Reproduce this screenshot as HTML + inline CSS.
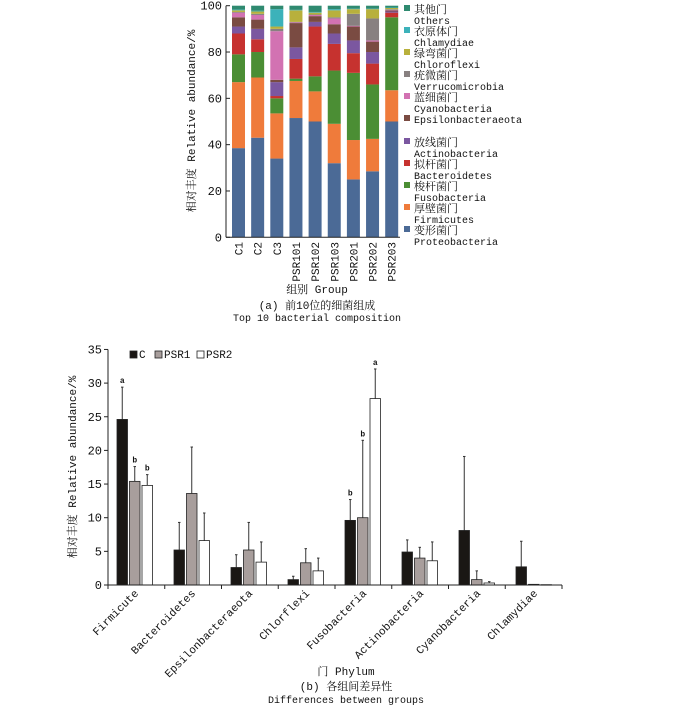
<!DOCTYPE html>
<html><head><meta charset="utf-8"><style>
body{margin:0;background:#fff;width:700px;height:708px;overflow:hidden}
svg text{font-family:"Liberation Mono","Noto Serif CJK SC",monospace;fill:#111}
</style></head><body>
<svg id="s" width="700" height="708">
<g id="top"></g>
<g id="bot"></g>
</svg>
<script>
// ---- chart (a) data: cumulative tops per bar, phyla bottom->top ----
const samples = ["C1","C2","C3","PSR101","PSR102","PSR103","PSR201","PSR202","PSR203"];
const phyla = ["Proteobacteria","Firmicutes","Fusobacteria","Bacteroidetes","Actinobacteria","Epsilonbacteraeota","Cyanobacteria","Verrucomicrobia","Chloroflexi","Chlamydiae","Others"];
const cumC1 = [38.5,67,79,88,91,95,97,97.3,98,98.3,100];
const cumC2 = [43,69,80,85.5,90,94,96,96.5,97.5,97.8,100];
const cumC3 = [34,53.5,60,61,67,68,89,90,91,98.5,100];
const cumP101 = [51.5,67.5,68.5,77,82,92.5,92.8,93,98,98.2,100];
const cumP102 = [50,63,69.5,91,93,95.5,96,96.2,97,97.3,100];
const cumP103 = [32,49,72,83.5,88,92,94.5,95,98,98.5,100];
const cumP201 = [25,42,71,79.5,85,91,91.3,96.5,98.5,98.7,100];
const cumP202 = [28.5,42.5,66,75,80,84.5,85,94.5,98.5,98.7,100];
const cumP203 = [50,63.5,95,97,97.5,98,98.2,98.5,99,99.2,100];
const stacks = [cumC1,cumC2,cumC3,cumP101,cumP102,cumP103,cumP201,cumP202,cumP203];
const topTicks = [0,20,40,60,80,100];
const legendCN = ["其他门","衣原体门","绿弯菌门","疣微菌门","蓝细菌门","","放线菌门","拟杆菌门","梭杆菌门","厚壁菌门","变形菌门"];
const legendEN = ["Others","Chlamydiae","Chloroflexi","Verrucomicrobia","Cyanobacteria","Epsilonbacteraeota","Actinobacteria","Bacteroidetes","Fusobacteria","Firmicutes","Proteobacteria"];
// ---- chart (b) data ----
const groups = ["Firmicute","Bacteroidetes","Epsilonbacteraeota","Chlorflexi","Fusobacteria","Actinobacteria","Cyanobacteria","Chlamydiae"];
const series = ["C","PSR1","PSR2"];
const valC = [24.6,5.2,2.6,0.8,9.6,4.9,8.1,2.7];
const valP1 = [15.4,13.6,5.2,3.3,10,4.0,0.8,0.1];
const valP2 = [14.8,6.6,3.4,2.1,27.7,3.6,0.3,0.05];
const errC = [29.4,9.3,4.5,1.3,12.7,6.7,19.1,6.5];
const errP1 = [17.6,20.5,9.3,5.4,21.5,5.6,2.1,0.1];
const errP2 = [16.4,10.7,6.4,4.0,32.1,6.4,0.5,0.05];
const letC = ["a","","","","b","","",""];
const letP1 = ["b","","","","b","","",""];
const letP2 = ["b","","","","a","","",""];
const botTicks = [0,5,10,15,20,25,30,35];

const NS="http://www.w3.org/2000/svg";
function mk(p,tag,at,txt){const e=document.createElementNS(NS,tag);for(const k in at)e.setAttribute(k,at[k]);if(txt!==undefined)e.textContent=txt;p.appendChild(e);return e;}
const colors={Proteobacteria:"#4b6a96",Firmicutes:"#ef7b3b",Fusobacteria:"#4b8e34",Bacteroidetes:"#c6322f",Actinobacteria:"#7b57a0",Epsilonbacteraeota:"#7a4b42",Cyanobacteria:"#d272b2",Verrucomicrobia:"#888080",Chloroflexi:"#b8b03c",Chlamydiae:"#3cb2ba",Others:"#2f8a70"};

// ---- draw (a) ----
const T=document.getElementById('top');
const ty=v=>237.3-v*2.316, tx=i=>238.5+i*19.15;
stacks.forEach((cum,i)=>{
  let prev=0;
  cum.forEach((c,j)=>{
    const r=mk(T,'rect',{x:tx(i)-6.5,y:ty(c),width:13,height:ty(prev)-ty(c),fill:colors[phyla[j]]});
    
    
    prev=c;
  });
  const t=mk(T,'text',{x:0,y:0,transform:`translate(${tx(i)+4},242) rotate(-90)`,'font-size':11,'text-anchor':'end'},samples[i]);
  
  
});
mk(T,'line',{x1:226,y1:ty(100),x2:226,y2:ty(0),stroke:'#222'});
mk(T,'line',{x1:226,y1:ty(0),x2:400,y2:ty(0),stroke:'#222'});
topTicks.forEach(v=>{
  mk(T,'line',{x1:226,y1:ty(v),x2:230,y2:ty(v),stroke:'#222'});
  const t=mk(T,'text',{x:222,y:ty(v)+4,'font-size':12,'text-anchor':'end'},v);
  
  
});
mk(T,'text',{transform:'translate(195,121) rotate(-90)','font-size':11,'text-anchor':'middle',},'相对丰度 Relative abundance/%');
const legY=[9,31,53,75,97,119,142,164,186,208,230];
legendEN.forEach((en,k)=>{
  const g=mk(T,'g',{});
  
  
  mk(g,'rect',{x:404,y:legY[k]-4,width:6,height:6,fill:colors[en]});
  if(legendCN[k]){mk(g,'text',{x:414,y:legY[k]+4,'font-size':11},legendCN[k]);mk(g,'text',{x:414,y:legY[k]+15,'font-size':10},en);}
  else mk(g,'text',{x:414,y:legY[k]+4,'font-size':10},en);
});
mk(T,'text',{x:317,y:293,'font-size':11,'text-anchor':'middle',},'组别 Group');
mk(T,'text',{x:317,y:309,'font-size':11,'text-anchor':'middle',},'(a) 前10位的细菌组成');
mk(T,'text',{x:317,y:321,'font-size':10,'text-anchor':'middle',},'Top 10 bacterial composition');

// ---- draw (b) ----
const B=document.getElementById('bot');
const by=v=>585-v*6.73, gx=i=>117+i*57;
const vals=[valC,valP1,valP2], errs=[errC,errP1,errP2], lets=[letC,letP1,letP2];
const fills=["#1a1714","#a89e9c","#ffffff"];
groups.forEach((g,i)=>{
  for(let s=0;s<3;s++){
    const x=gx(i)+s*12.5, v=vals[s][i], e=errs[s][i];
    if(e>v){mk(B,'line',{x1:x+5.25,y1:by(e),x2:x+5.25,y2:by(v),stroke:'#333','stroke-width':1});
      mk(B,'line',{x1:x+4,y1:by(e),x2:x+6.5,y2:by(e),stroke:'#333'});}
    const r=mk(B,'rect',{x:x,y:by(v),width:10.5,height:Math.max(0.5,by(0)-by(v)),fill:fills[s],stroke:'#222','stroke-width':0.8});
    
    
    if(lets[s][i]) mk(B,'text',{x:x+5.25,y:by(e)-4,'font-size':8,'font-weight':'bold','text-anchor':'middle'},lets[s][i]);
  }
  const t=mk(B,'text',{transform:`translate(${gx(i)+22},594) rotate(-45)`,'font-size':11,'text-anchor':'end'},g);
  
  
});
mk(B,'line',{x1:108,y1:by(35),x2:108,y2:by(0),stroke:'#222'});
mk(B,'line',{x1:108,y1:by(0),x2:562,y2:by(0),stroke:'#222'});
for(let i=0;i<=8;i++) mk(B,'line',{x1:108+i*56.75,y1:585,x2:108+i*56.75,y2:589,stroke:'#222'});
botTicks.forEach(v=>{
  mk(B,'line',{x1:104,y1:by(v),x2:108,y2:by(v),stroke:'#222'});
  const t=mk(B,'text',{x:102,y:by(v)+4,'font-size':12,'text-anchor':'end'},v);
  
  
});
mk(B,'text',{transform:'translate(76,467) rotate(-90)','font-size':11,'text-anchor':'middle',},'相对丰度 Relative abundance/%');
series.forEach((s,k)=>{
  const g=mk(B,'g',{});
  
  
  const lx=[130,155,197][k];
  mk(g,'rect',{x:lx,y:351,width:7,height:7,fill:fills[k],stroke:'#222','stroke-width':0.8});
  mk(g,'text',{x:lx+9,y:358,'font-size':11},s);
});
mk(B,'text',{x:346,y:675,'font-size':11,'text-anchor':'middle',},'门 Phylum');
mk(B,'text',{x:346,y:690,'font-size':11,'text-anchor':'middle',},'(b) 各组间差异性');
mk(B,'text',{x:346,y:703,'font-size':10,'text-anchor':'middle',},'Differences between groups');
</script>
</body></html>
